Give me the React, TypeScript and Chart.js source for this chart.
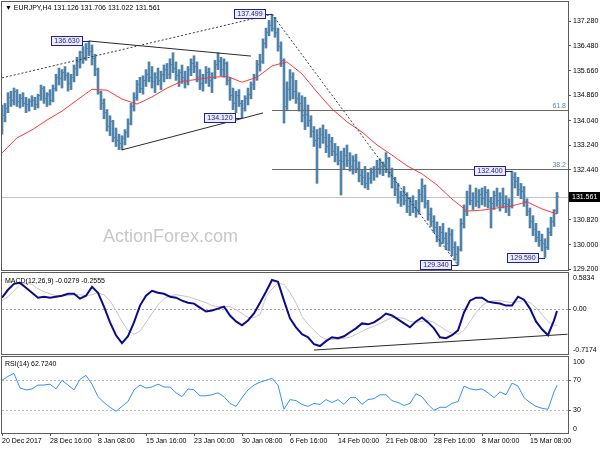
import React, { useEffect, useRef } from "react";
import { Chart, registerables } from "chart.js";

Chart.register(...registerables);

const FONT = "'Liberation Sans', Arial, sans-serif";

// ---------------- data ----------------
const symbol = "EURJPY,H4";
const firstOpen = 133.95;
const highs = [
  134.55, 134.6, 134.95, 135.0, 135.1, 135.05, 134.9, 134.95, 134.8, 134.75,
  134.85, 134.8, 134.9, 135.2, 135.15, 134.95, 135.05, 135.2, 135.55, 135.75,
  135.7, 135.8, 135.6, 135.55, 135.85, 136.1, 136.3, 136.45, 136.55, 136.63,
  136.5, 136.2, 135.75, 135.0, 134.75, 134.4, 134.2, 134.05, 133.8, 133.6,
  133.55, 133.75, 134.1, 134.6, 134.95, 135.35, 135.45, 135.5, 135.7, 135.95,
  135.8, 135.6, 135.75, 135.65, 135.85, 135.9, 136.05, 136.25, 135.95, 135.7,
  135.85, 135.65, 135.8, 136.05, 136.15, 135.95, 135.7, 135.55, 135.8, 135.75,
  135.6, 136.0, 136.25, 136.1, 136.05, 135.95, 135.45, 135.1, 135.0, 135.05,
  134.7, 134.85, 135.1, 135.3, 135.55, 136.0, 136.2, 136.7, 137.05, 137.3,
  137.499, 137.4, 137.05, 136.6, 136.05, 135.3, 135.7, 135.6, 135.35, 134.95,
  134.85, 134.8, 134.55, 134.2, 133.85, 133.75, 133.8, 133.9, 133.75, 133.6,
  133.5, 133.3, 133.2, 133.05, 133.15, 133.25, 133.0, 132.9, 132.95, 132.7,
  132.45, 132.55, 132.35, 132.5, 132.55, 132.75, 132.8, 132.7, 133.0, 132.85,
  132.5, 132.2, 132.0, 131.75, 131.9, 131.7, 131.55, 131.6, 131.45, 131.8,
  132.15, 131.95, 131.45, 131.2, 130.95, 130.75, 130.6, 130.7, 130.4, 130.55,
  130.5, 130.1, 129.95, 130.85, 131.3, 131.75, 131.95, 131.7, 131.85, 131.8,
  131.85, 131.9, 131.8, 131.55, 131.75, 131.85, 131.7, 131.85, 131.6, 131.5,
  132.4, 132.35, 132.2, 132.0, 131.9, 131.5, 131.2, 130.95, 130.7, 130.45,
  130.35, 130.2, 130.55, 130.9, 131.15, 131.706,
];
const lows = [
  133.6, 134.0, 134.3, 134.5, 134.55, 134.5, 134.45, 134.5, 134.3, 134.35,
  134.5, 134.4, 134.45, 134.7, 134.6, 134.5, 134.55, 134.65, 135.0, 135.2,
  135.1, 135.35, 135.0, 135.05, 135.3, 135.5, 135.75, 135.9, 136.0, 136.15,
  135.85, 135.5, 134.9, 134.4, 134.1, 133.7, 133.55, 133.35, 133.2, 133.1,
  133.09, 133.25, 133.5, 133.9, 134.35, 134.7, 134.95, 134.9, 135.15, 135.3,
  135.1, 134.95, 135.2, 135.05, 135.3, 135.4, 135.4, 135.6, 135.35, 135.15,
  135.25, 135.1, 135.2, 135.5, 135.6, 135.3, 135.05, 135.0, 135.25, 135.15,
  134.95, 135.4, 135.7, 135.5, 135.45, 135.2, 134.7, 134.4, 134.3, 134.5,
  134.12, 134.35, 134.55, 134.75, 135.05, 135.35, 135.65, 135.9, 136.4, 136.8,
  136.95, 136.75, 136.3, 135.8, 133.96, 134.4, 134.7, 134.75, 134.6, 134.35,
  134.0, 133.75, 133.85, 133.5, 133.2, 132.0, 133.15, 133.3, 133.0, 132.85,
  132.9, 132.7, 132.6, 131.62, 132.45, 132.55, 132.4, 132.3, 132.35, 132.05,
  131.95, 131.85, 131.8, 132.0, 132.1, 132.2, 132.3, 132.25, 132.35, 132.2,
  131.85, 131.6, 131.35, 131.25, 131.3, 131.05, 130.95, 131.05, 130.9, 131.0,
  131.4, 131.2, 130.8, 130.6, 130.4, 130.1, 129.95, 130.05, 129.85, 129.8,
  129.65, 129.5, 129.34, 129.8, 130.55, 130.95, 131.3, 131.15, 131.25, 131.2,
  131.3, 131.25, 131.2, 130.55, 131.15, 131.25, 131.1, 131.2, 131.05, 130.95,
  131.2, 131.85, 131.6, 131.5, 131.25, 130.95, 130.55, 130.3, 130.1, 129.95,
  129.8, 129.59, 129.85, 130.3, 130.6, 131.022,
];
const closes = [
  134.2, 134.45, 134.8, 134.7, 135.0, 134.65, 134.75, 134.6, 134.55, 134.65,
  134.7, 134.55, 134.85, 135.1, 134.75, 134.9, 134.7, 135.1, 135.45, 135.4,
  135.6, 135.5, 135.25, 135.45, 135.75, 135.95, 136.25, 136.1, 136.4, 136.3,
  136.05, 135.7, 134.95, 134.6, 134.3, 133.85, 134.0, 133.5, 133.4, 133.3,
  133.45, 133.65, 133.95, 134.5, 134.8, 135.2, 135.1, 135.35, 135.55, 135.45,
  135.3, 135.45, 135.35, 135.55, 135.7, 135.55, 135.85, 135.75, 135.5, 135.6,
  135.45, 135.3, 135.7, 135.9, 135.8, 135.45, 135.25, 135.4, 135.6, 135.35,
  135.45, 135.85, 135.95, 135.7, 135.9, 135.35, 134.85, 134.6, 134.85, 134.6,
  134.45, 134.75, 134.9, 135.2, 135.45, 135.85, 135.95, 136.55, 136.9, 137.15,
  137.05, 136.9, 136.45, 136.0, 134.5, 135.05, 135.45, 135.0, 134.75, 134.6,
  134.2, 134.25, 134.05, 133.7, 133.4, 133.45, 133.6, 133.5, 133.2, 133.35,
  133.05, 132.95, 132.75, 132.7, 132.9, 132.75, 132.55, 132.75, 132.5, 132.25,
  132.2, 132.0, 132.15, 132.35, 132.45, 132.5, 132.55, 132.6, 132.8, 132.35,
  132.05, 131.8, 131.55, 131.6, 131.45, 131.25, 131.3, 131.2, 131.15, 131.65,
  131.9, 131.35, 131.0, 130.75, 130.55, 130.3, 130.4, 130.2, 130.05, 130.35,
  129.9, 129.7, 129.85, 130.7, 131.1, 131.55, 131.45, 131.55, 131.4, 131.65,
  131.5, 131.7, 131.4, 131.35, 131.6, 131.45, 131.55, 131.35, 131.3, 131.25,
  132.2, 132.05, 131.8, 131.75, 131.4, 131.1, 130.75, 130.5, 130.25, 130.15,
  130.05, 129.9, 130.4, 130.75, 131.126, 131.561,
];

// moving average, one value every 5 bars
const maStep = 5;
const maValues = [
  132.99, 133.48, 133.74, 134.06, 134.35, 134.71, 135.06, 135.03, 134.74, 134.58,
  134.81, 135.1, 135.32, 135.38, 135.45, 135.48, 135.29, 135.45, 135.82, 135.95,
  135.56, 134.97, 134.42, 134.0, 133.67, 133.25, 132.92, 132.57, 132.31, 131.95,
  131.49, 131.1, 131.13, 131.2, 131.27, 131.4, 131.17, 131.0,
];

// oscillators, one value every 2 bars, plus the latest value
const oscStep = 2;
const macdMain = [
  0.187, 0.314, 0.409, 0.425, 0.346, 0.266, 0.187, 0.203, 0.187, 0.203,
  0.219, 0.25, 0.25, 0.171, 0.219, 0.361, 0.266, 0.044, -0.21, -0.416,
  -0.543, -0.432, -0.21, 0.06, 0.219, 0.298, 0.266, 0.25, 0.203, 0.187,
  0.139, 0.107, 0.092, 0.028, -0.035, -0.019, 0.012, 0.044, -0.099, -0.194,
  -0.257, -0.178, -0.067, 0.107, 0.282, 0.472, 0.441, 0.139, -0.146, -0.289,
  -0.4, -0.448, -0.559, -0.59, -0.511, -0.448, -0.464, -0.432, -0.368, -0.305,
  -0.226, -0.241, -0.21, -0.146, -0.067, -0.099, -0.162, -0.226, -0.289, -0.194,
  -0.13, -0.21, -0.305, -0.448, -0.464, -0.416, -0.337, -0.051, 0.139, 0.187,
  0.187, 0.123, 0.107, 0.092, 0.06, 0.06, 0.203, 0.155, 0.012, -0.194,
  -0.321, -0.416, -0.178,
];
const macdSignal = [
  0.139, 0.203, 0.298, 0.4, 0.42, 0.4, 0.33, 0.282, 0.25, 0.219,
  0.219, 0.219, 0.234, 0.234, 0.219, 0.234, 0.266, 0.234, 0.139, -0.019,
  -0.194, -0.337, -0.4, -0.353, -0.21, -0.067, 0.076, 0.171, 0.219, 0.234,
  0.219, 0.203, 0.171, 0.139, 0.107, 0.06, 0.044, 0.044, 0.044, -0.003,
  -0.067, -0.13, -0.13, -0.083, 0.2, 0.33, 0.42, 0.4, 0.27, 0.1,
  -0.114, -0.241, -0.337, -0.432, -0.48, -0.48, -0.48, -0.464, -0.448, -0.4,
  -0.353, -0.305, -0.273, -0.226, -0.178, -0.13, -0.13, -0.146, -0.194, -0.21,
  -0.194, -0.178, -0.21, -0.273, -0.337, -0.384, -0.4, -0.337, -0.194, -0.051,
  0.06, 0.123, 0.139, 0.139, 0.123, 0.107, 0.123, 0.139, 0.107, 0.028,
  -0.083, -0.194, -0.257,
];
const macdLast = -0.0279;
const signalLast = -0.2555;
const macdMin = -0.7174;
const macdMax = 0.5834;

const rsiValues = [
  69.4, 74.5, 78.3, 59.2, 56.7, 58.0, 63.1, 63.1, 64.3, 58.0,
  69.4, 63.1, 56.7, 70.7, 75.8, 64.3, 47.8, 40.1, 33.8, 28.7,
  35.0, 41.4, 56.7, 63.1, 59.2, 60.5, 64.3, 60.5, 60.5, 52.9,
  47.8, 58.0, 56.7, 49.0, 49.0, 50.3, 52.9, 47.8, 38.9, 35.0,
  46.5, 56.7, 63.1, 66.9, 69.4, 72.0, 63.1, 31.2, 43.9, 42.7,
  37.6, 35.0, 38.9, 37.6, 43.9, 40.1, 43.9, 37.6, 46.5, 46.5,
  37.6, 43.9, 45.2, 50.3, 50.3, 42.7, 40.1, 36.3, 38.9, 51.6,
  47.8, 37.6, 29.9, 33.8, 33.8, 38.9, 41.4, 61.8, 58.0, 56.7,
  58.0, 52.9, 46.5, 54.1, 50.3, 65.6, 61.8, 46.5, 40.1, 35.0,
  32.5, 31.2, 54.1,
];
const rsiLast = 62.724;
const rsiLevels = [70, 30];
const rsiAxisValues = [100, 70, 30, 0];

const priceTicks = [129.2, 130.0, 130.82, 132.44, 133.24, 134.04, 134.86, 135.66, 136.48, 137.28];
const priceMin = 129.184;
const priceMax = 137.898;

const dateTickBars = [0, 16, 32, 48, 64, 80, 96, 112, 128, 144, 160, 176];
const dateLabels = [
  "20 Dec 2017", "28 Dec 16:00", "8 Jan 08:00", "15 Jan 16:00", "23 Jan 00:00", "30 Jan 08:00",
  "6 Feb 16:00", "14 Feb 00:00", "21 Feb 08:00", "28 Feb 16:00", "8 Mar 00:00", "15 Mar 08:00",
];

const swingBars = [29, 90, 80, 152, 170, 181];
const swingPrices = [136.63, 137.499, 134.12, 129.34, 132.4, 129.59];

const fibLabels = ["61.8", "38.2"];
const fibPrices = [134.382, 132.457];
const fibStartBar = 90;

// [bar1, price1, bar2, price2]
const solidLines = [
  [29, 136.63, 83, 136.14],
  [40, 133.09, 87, 134.29],
];
const dottedLines = [
  [0, 135.43, 90, 137.499],
  [90, 137.499, 152, 129.34],
];
const macdTrendLine = [104, -0.654, 188.5, -0.4];

// ---------------- styling ----------------
const BAR = "#5283ab";
const FRAME = "#5c5c5c";
const xMin = 0;
const xMax = xMin + 566 / 3;
const lastBar = highs.length - 1;
const opens = [firstOpen, ...closes.slice(0, lastBar)];

const oscPoints = (vals: number[], last: number) => [
  ...vals.map((v, k) => ({ x: k * oscStep, y: v })),
  { x: lastBar, y: last },
];

function hLine(ctx: CanvasRenderingContext2D, x1: number, x2: number, y: number) {
  const yy = Math.round(y) + 0.5;
  ctx.beginPath();
  ctx.moveTo(x1, yy);
  ctx.lineTo(x2, yy);
  ctx.stroke();
}

function frame(chart: any) {
  const { ctx, chartArea: a } = chart;
  ctx.save();
  ctx.strokeStyle = FRAME;
  ctx.lineWidth = 1;
  ctx.setLineDash([]);
  ctx.strokeRect(a.left - 0.5, a.top - 0.5, a.right - a.left + 1, a.bottom - a.top + 1);
  ctx.restore();
}

function sideAxis(chart: any, values: number[], fmt: (v: number) => string) {
  const { ctx, chartArea: a, scales } = chart;
  const y = scales.y;
  ctx.save();
  ctx.strokeStyle = FRAME;
  ctx.fillStyle = "#000";
  ctx.font = `7px ${FONT}`;
  ctx.textBaseline = "middle";
  ctx.textAlign = "left";
  values.forEach((v) => {
    const py = y.getPixelForValue(v);
    if (py > a.top + 3 && py < a.bottom - 3) {
      hLine(ctx, a.right, a.right + 3, py);
    }
    const ly = Math.min(Math.max(py, a.top + 5), a.bottom - 4);
    ctx.fillText(fmt(v), a.right + 5, ly);
  });
  ctx.restore();
}

const xScale = (display: boolean) => ({
  type: "linear" as const,
  min: xMin,
  max: xMax,
  display,
  offset: false,
});

export default function App() {
  const mainRef = useRef<HTMLCanvasElement>(null);
  const macdRef = useRef<HTMLCanvasElement>(null);
  const rsiRef = useRef<HTMLCanvasElement>(null);

  useEffect(() => {
    const charts: Chart[] = [];

    // ---------- main price panel ----------
    const mainDeco = {
      id: "mainDeco",
      beforeDatasetsDraw(chart: any) {
        const { ctx, chartArea: a, scales } = chart;
        const y = scales.y;
        ctx.save();
        ctx.font = `18px ${FONT}`;
        ctx.fillStyle = "#c8c8c8";
        ctx.textBaseline = "middle";
        ctx.textAlign = "left";
        ctx.fillText("ActionForex.com", 103, 237);
        ctx.strokeStyle = "#c3c3c3";
        ctx.lineWidth = 1;
        hLine(ctx, a.left, a.right, y.getPixelForValue(closes[lastBar]));
        ctx.restore();
      },
      afterDatasetsDraw(chart: any) {
        const { ctx, chartArea: a, scales } = chart;
        const x = scales.x;
        const y = scales.y;
        ctx.save();
        ctx.beginPath();
        ctx.rect(a.left, a.top, a.right - a.left, a.bottom - a.top);
        ctx.clip();
        // open / close ticks
        ctx.fillStyle = BAR;
        for (let j = 0; j <= lastBar; j++) {
          const px = Math.round(x.getPixelForValue(j));
          ctx.fillRect(px - 2, Math.round(y.getPixelForValue(opens[j]) - 0.5), 1, 1);
          ctx.fillRect(px + 1, Math.round(y.getPixelForValue(closes[j]) - 0.5), 1, 1);
        }
        ctx.lineWidth = 1;
        // fib levels
        ctx.strokeStyle = "#6a6a6a";
        fibPrices.forEach((p) => hLine(ctx, x.getPixelForValue(fibStartBar), a.right, y.getPixelForValue(p)));
        // trend lines
        ctx.strokeStyle = "#2a2a2a";
        solidLines.forEach(([b1, p1, b2, p2]) => {
          ctx.beginPath();
          ctx.moveTo(x.getPixelForValue(b1), y.getPixelForValue(p1));
          ctx.lineTo(x.getPixelForValue(b2), y.getPixelForValue(p2));
          ctx.stroke();
        });
        ctx.setLineDash([2, 2]);
        ctx.strokeStyle = "#3a3a3a";
        dottedLines.forEach(([b1, p1, b2, p2]) => {
          ctx.beginPath();
          ctx.moveTo(x.getPixelForValue(b1), y.getPixelForValue(p1));
          ctx.lineTo(x.getPixelForValue(b2), y.getPixelForValue(p2));
          ctx.stroke();
        });
        ctx.setLineDash([]);
        // fib labels
        ctx.font = `7px ${FONT}`;
        ctx.fillStyle = "#5f82a6";
        ctx.textAlign = "right";
        ctx.textBaseline = "bottom";
        fibPrices.forEach((p, i) => ctx.fillText(fibLabels[i], a.right - 2, y.getPixelForValue(p) - 1));
        // swing labels
        ctx.textAlign = "center";
        ctx.textBaseline = "middle";
        swingBars.forEach((b, i) => {
          const bx = x.getPixelForValue(b);
          const by = Math.round(y.getPixelForValue(swingPrices[i])) + 0.5;
          const boxR = Math.round(bx) - 6;
          const boxL = boxR - 32;
          ctx.strokeStyle = "#20209a";
          ctx.beginPath();
          ctx.moveTo(boxR, by);
          ctx.lineTo(bx, by);
          ctx.stroke();
          ctx.fillStyle = "#ececfb";
          ctx.fillRect(boxL, by - 5.5, 32, 10);
          ctx.strokeRect(boxL + 0.5, by - 5, 31, 9);
          ctx.fillStyle = "#1a1a85";
          ctx.fillText(swingPrices[i].toFixed(3), boxL + 16, by);
        });
        ctx.restore();

        // title and current price label (outside clip)
        ctx.save();
        ctx.font = `7px ${FONT}`;
        ctx.fillStyle = "#000";
        ctx.textBaseline = "middle";
        ctx.textAlign = "left";
        const title = `\u25BC ${symbol} ${opens[lastBar].toFixed(3)} ${highs[lastBar].toFixed(3)} ${lows[lastBar].toFixed(3)} ${closes[lastBar].toFixed(3)}`;
        ctx.fillText(title, 5, 8);
        const cy = Math.round(y.getPixelForValue(closes[lastBar]));
        ctx.fillStyle = "#000";
        ctx.fillRect(a.right + 1, cy - 5, 31, 10);
        ctx.fillStyle = "#fff";
        ctx.fillText(closes[lastBar].toFixed(3), a.right + 4, cy + 0.5);
        ctx.restore();
        frame(chart);
      },
    };

    if (mainRef.current) {
      charts.push(
        new Chart(mainRef.current, {
          type: "bar",
          data: {
            datasets: [
              {
                type: "line",
                data: maValues.map((v, k) => ({ x: k * maStep, y: v })),
                borderColor: "#ff3838",
                borderWidth: 1,
                pointRadius: 0,
                order: 1,
              } as any,
              {
                type: "bar",
                data: highs.map((h, j) => ({ x: j, y: [lows[j], h] })),
                backgroundColor: BAR,
                borderWidth: 0,
                barThickness: 2,
                order: 2,
              } as any,
            ],
          },
          options: {
            animation: false,
            responsive: false,
            maintainAspectRatio: false,
            layout: { padding: { left: 2, top: 2, bottom: 1, right: 0 } },
            plugins: { legend: { display: false }, tooltip: { enabled: false } },
            scales: {
              x: xScale(false),
              y: {
                type: "linear",
                position: "right",
                min: priceMin,
                max: priceMax,
                afterBuildTicks: (s: any) => {
                  s.ticks = priceTicks.map((v) => ({ value: v }));
                },
                afterFit: (s: any) => {
                  s.width = 32;
                  s.paddingTop = 0;
                  s.paddingBottom = 0;
                },
                ticks: {
                  autoSkip: false,
                  padding: 2,
                  color: "#000",
                  font: { size: 7, family: FONT },
                  callback: (v: any) => Number(v).toFixed(3),
                },
                grid: { drawOnChartArea: false, tickLength: 3, color: FRAME },
                border: { display: true, color: FRAME },
              },
            },
          } as any,
          plugins: [mainDeco],
        })
      );
    }

    // ---------- MACD panel ----------
    const macdDeco = {
      id: "macdDeco",
      beforeDatasetsDraw(chart: any) {
        const { ctx, chartArea: a, scales } = chart;
        ctx.save();
        ctx.strokeStyle = "#a8a8a8";
        ctx.lineWidth = 1;
        ctx.setLineDash([2, 2]);
        hLine(ctx, a.left, a.right, scales.y.getPixelForValue(0));
        ctx.restore();
      },
      afterDatasetsDraw(chart: any) {
        const { ctx, chartArea: a, scales } = chart;
        const x = scales.x;
        const y = scales.y;
        ctx.save();
        ctx.beginPath();
        ctx.rect(a.left, a.top, a.right - a.left, a.bottom - a.top);
        ctx.clip();
        ctx.strokeStyle = "#2a2a2a";
        ctx.lineWidth = 1;
        const [b1, v1, b2, v2] = macdTrendLine;
        ctx.beginPath();
        ctx.moveTo(x.getPixelForValue(b1), y.getPixelForValue(v1));
        ctx.lineTo(x.getPixelForValue(b2), y.getPixelForValue(v2));
        ctx.stroke();
        ctx.restore();
        ctx.save();
        ctx.font = `7px ${FONT}`;
        ctx.fillStyle = "#000";
        ctx.textBaseline = "middle";
        ctx.fillText(`MACD(12,26,9) ${macdLast.toFixed(4)} ${signalLast.toFixed(4)}`, 5, a.top + 8);
        ctx.restore();
        sideAxis(chart, [macdMax, 0, macdMin], (v) => (v === 0 ? "0.00" : v.toFixed(4)));
        frame(chart);
      },
    };

    if (macdRef.current) {
      charts.push(
        new Chart(macdRef.current, {
          type: "line",
          data: {
            datasets: [
              {
                data: oscPoints(macdMain, macdLast),
                borderColor: "#0c0c8a",
                borderWidth: 2,
                pointRadius: 0,
                order: 1,
              },
              {
                data: oscPoints(macdSignal, signalLast),
                borderColor: "#c6c6c6",
                borderWidth: 1,
                pointRadius: 0,
                order: 2,
              },
            ],
          },
          options: {
            animation: false,
            responsive: false,
            maintainAspectRatio: false,
            layout: { padding: { left: 2, top: 2, bottom: 1, right: 32 } },
            plugins: { legend: { display: false }, tooltip: { enabled: false } },
            scales: {
              x: xScale(false),
              y: { type: "linear", min: macdMin, max: macdMax, display: false },
            },
          } as any,
          plugins: [macdDeco],
        })
      );
    }

    // ---------- RSI panel ----------
    const rsiDeco = {
      id: "rsiDeco",
      beforeDatasetsDraw(chart: any) {
        const { ctx, chartArea: a, scales } = chart;
        ctx.save();
        ctx.strokeStyle = "#b8b8b8";
        ctx.lineWidth = 1;
        ctx.setLineDash([2, 2]);
        rsiLevels.forEach((l) => hLine(ctx, a.left, a.right, scales.y.getPixelForValue(l)));
        ctx.restore();
      },
      afterDatasetsDraw(chart: any) {
        const { ctx, chartArea: a } = chart;
        ctx.save();
        ctx.font = `7px ${FONT}`;
        ctx.fillStyle = "#000";
        ctx.textBaseline = "middle";
        ctx.fillText(`RSI(14) ${rsiLast.toFixed(4)}`, 5, a.top + 7);
        ctx.restore();
        sideAxis(chart, rsiAxisValues, (v) => String(v));
        frame(chart);
      },
    };

    if (rsiRef.current) {
      charts.push(
        new Chart(rsiRef.current, {
          type: "line",
          data: {
            datasets: [
              {
                data: oscPoints(rsiValues, rsiLast),
                borderColor: "#2f93ff",
                borderWidth: 1,
                pointRadius: 0,
              },
            ],
          },
          options: {
            animation: false,
            responsive: false,
            maintainAspectRatio: false,
            layout: { padding: { left: 2, top: 2, bottom: 3, right: 32 } },
            plugins: { legend: { display: false }, tooltip: { enabled: false } },
            scales: {
              x: {
                ...xScale(true),
                afterBuildTicks: (s: any) => {
                  s.ticks = dateTickBars.map((v) => ({ value: v }));
                },
                afterFit: (s: any) => {
                  s.height = 14;
                  s.paddingLeft = 0;
                  s.paddingRight = 0;
                },
                ticks: {
                  autoSkip: false,
                  maxRotation: 0,
                  minRotation: 0,
                  align: "start",
                  padding: 1,
                  color: "#000",
                  font: { size: 7, family: FONT },
                  callback: (v: any) => {
                    const i = dateTickBars.indexOf(Number(v));
                    return i >= 0 ? dateLabels[i] : "";
                  },
                },
                grid: { drawOnChartArea: false, tickLength: 3, color: FRAME },
                border: { display: true, color: FRAME },
              },
              y: { type: "linear", min: 0, max: 100, display: false },
            },
          } as any,
          plugins: [rsiDeco],
        })
      );
    }

    return () => charts.forEach((c) => c.destroy());
  }, []);

  return (
    <div
      style={{
        position: "fixed",
        left: 0,
        top: 0,
        width: 600,
        height: 450,
        background: "#fff",
        overflow: "hidden",
      }}
    >
      <canvas ref={mainRef} width={600} height={271} style={{ position: "absolute", left: 0, top: 0 }} />
      <canvas ref={macdRef} width={600} height={84} style={{ position: "absolute", left: 0, top: 271 }} />
      <canvas ref={rsiRef} width={600} height={95} style={{ position: "absolute", left: 0, top: 355 }} />
    </div>
  );
}
